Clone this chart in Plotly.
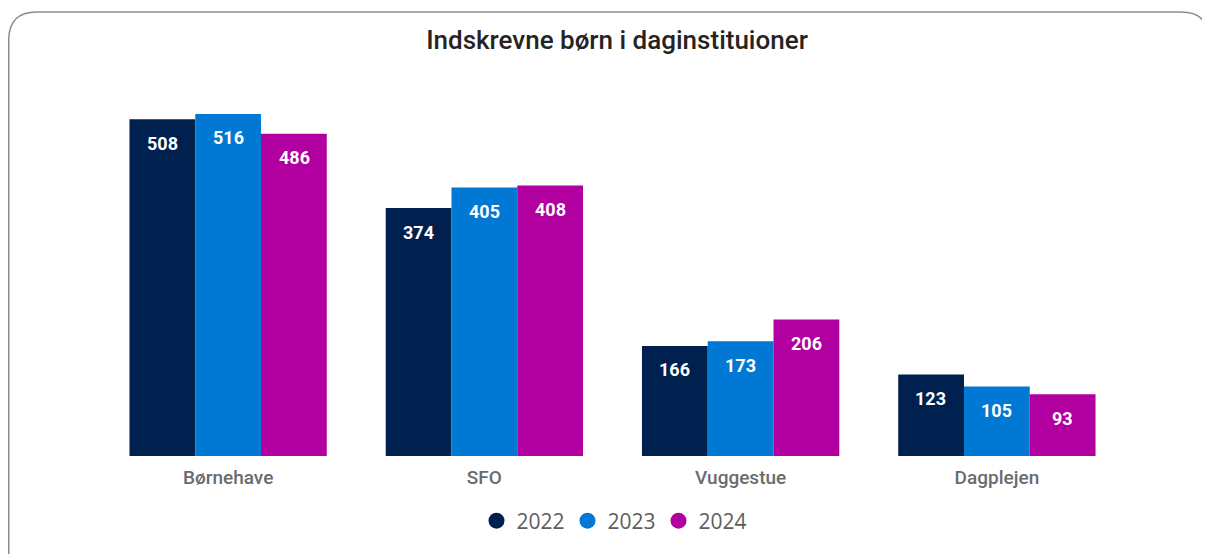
import plotly.graph_objects as go

categories = ["Børnehave", "SFO", "Vuggestue", "Dagplejen"]
years = ["2022", "2023", "2024"]
values_2022 = [508, 374, 166, 123]
values_2023 = [516, 405, 173, 105]
values_2024 = [486, 408, 206, 93]
title_text = "Indskrevne børn i daginstituioner"

series = [values_2022, values_2023, values_2024]
colors = ["#00204F", "#0078D4", "#B200A0"]

# the page adds an 8px body margin, so the figure is sized to fill the rest
W, H = 1202, 546
fig = go.Figure()

label_font = dict(family="Roboto", size=18, color="white", weight="bold")

for i, (yr, vals, col) in enumerate(zip(years, series, colors)):
    fig.add_trace(go.Bar(
        x=categories, y=vals, name=yr, marker=dict(color=col, line=dict(width=0)),
        showlegend=False, textposition="none",
        hoverinfo="x+y+name",
    ))
    fig.add_trace(go.Scatter(
        x=[None], y=[None], mode="markers", name=yr,
        marker=dict(color=col, size=16, symbol="circle"), showlegend=True,
    ))

# data labels placed inside bars, below the top
offsets = [-66, 0, 66]
for i, vals in enumerate(series):
    for c, v in zip(categories, vals):
        fig.add_annotation(
            x=c, y=v, xref="x", yref="y", text=str(v), showarrow=False,
            xshift=offsets[i], yshift=-24, yanchor="middle",
            font=label_font,
        )

# rounded frame
x0, x1 = 0.75 / W, 1201 / W
yt = 1 - 4 / H
yb = -0.05
rx, ry = 28 / W, 28 / H
path = (f"M {x0},{yb} L {x0},{yt - ry} Q {x0},{yt} {x0 + rx},{yt} "
        f"L {x1 - rx},{yt} Q {x1},{yt} {x1},{yt - ry} L {x1},{yb}")
fig.add_shape(type="path", path=path, xref="paper", yref="paper",
              line=dict(color="#8C8C8C", width=1.5), layer="above")

ymax = (448 - 92) / 0.663

fig.update_layout(
    width=W, height=H,
    margin=dict(l=0, r=0, t=0, b=0),
    paper_bgcolor="white", plot_bgcolor="white",
    barmode="group", bargap=0.23, bargroupgap=0,
    title=dict(text=title_text, x=609 / W, xanchor="center", y=1 - 32 / H, yanchor="middle",
               font=dict(family="Roboto", size=26, color="#252423", weight=500)),
    xaxis=dict(domain=[92 / W, 1117 / W], showgrid=False, showline=False, zeroline=False,
               ticks="outside", ticklen=4, tickcolor="rgba(0,0,0,0)",
               tickfont=dict(family="Roboto", size=19, color="#6B6B6B", weight=500)),
    yaxis=dict(domain=[(H - 448) / H, (H - 92) / H], range=[0, ymax], visible=False,
               showgrid=False, zeroline=False),
    legend=dict(orientation="h", x=605 / W, xanchor="center", y=1 - 513 / H, yanchor="middle",
                font=dict(family="Open Sans", size=21, color="#605E5C", weight=400),
                itemwidth=30, entrywidth=46, entrywidthmode="pixels", tracegroupgap=0),
)

fig.write_html("out.html")
